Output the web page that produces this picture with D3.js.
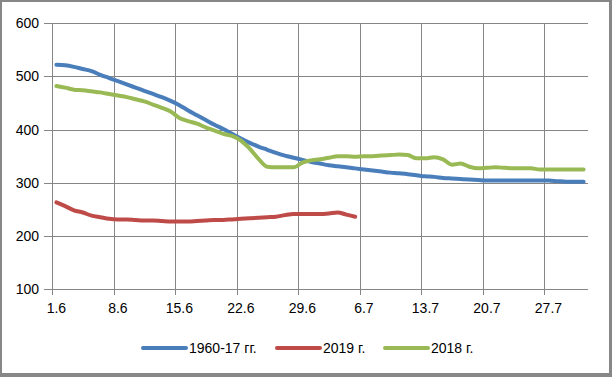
<!DOCTYPE html>
<html><head><meta charset="utf-8">
<script src="https://cdn.jsdelivr.net/npm/d3@7"></script>
<style>html,body{margin:0;padding:0;background:#fff}svg{display:block}text{font-family:"Liberation Sans",Arial,sans-serif;fill:#000}</style>
</head><body><svg id="c" width="612" height="377"></svg>
<script>
const categories = ["1.6","2.6","3.6","4.6","5.6","6.6","7.6","8.6","9.6","10.6","11.6","12.6","13.6","14.6","15.6","16.6","17.6","18.6","19.6","20.6","21.6","22.6","23.6","24.6","25.6","26.6","27.6","28.6","29.6","30.6","1.7","2.7","3.7","4.7","5.7","6.7","7.7","8.7","9.7","10.7","11.7","12.7","13.7","14.7","15.7","16.7","17.7","18.7","19.7","20.7","21.7","22.7","23.7","24.7","25.7","26.7","27.7","28.7","29.7","30.7","31.7"];
const tickLabels = ["1.6","8.6","15.6","22.6","29.6","6.7","13.7","20.7","27.7"];
const yTicks = [100,200,300,400,500,600];
const seriesNames = ["1960-17 гг.","2019 г.","2018 г."];
const blue = [522,521,518,514,510,503,497,491,485,479,473,467,461,454,446,436,427,418,409,401,392,383,375,368,362,356,351,347,343,339,336,333,331,329,327,325,323,321,319,318,316,314,312,311,309,308,307,306,305,304,304,304,304,304,304,304,304,303,302,302,302];
const red = [263,256,248,244,238,235,232,231,231,230,229,229,228,227,227,227,228,229,230,230,231,232,233,234,235,236,239,241,241,241,241,242,244,240,236];
const green = [482,479,475,474,472,470,467,464,461,457,453,447,441,434,422,416,411,404,398,392,388,379,364,345,330,329,329,329,338,342,344,347,350,350,349,350,350,351,352,353,352,346,346,348,344,334,336,330,327,328,329,328,327,327,327,325,325,325,325,325,325];
const colors = ["#4A7EBB","#BE4B48","#98B954"];

const svg = d3.select("#c");
svg.append("rect").attr("x",0).attr("y",0).attr("width",612).attr("height",377).attr("fill","#878787");
svg.append("rect").attr("x",2).attr("y",2).attr("width",607).attr("height",371).attr("fill","#fff");

const x = d3.scaleBand().domain(categories).range([52,588]);
const y = d3.scaleLinear().domain([100,600]).range([289,23.3]);
const grid = "#868686";

// horizontal gridlines + y ticks
svg.append("g").selectAll("line").data(yTicks).join("line")
  .attr("x1",44).attr("x2",588).attr("y1",d=>Math.round(y(d))+0.5).attr("y2",d=>Math.round(y(d))+0.5)
  .attr("stroke",grid).attr("stroke-width",1);
svg.append("g").selectAll("text").data(yTicks).join("text")
  .attr("x",39).attr("y",d=>y(d)).attr("dy","0.36em").attr("text-anchor","end")
  .attr("font-size",14).text(d=>d);

// vertical gridlines at tick categories
svg.append("g").selectAll("line").data(tickLabels).join("line")
  .attr("x1",d=>Math.round(x(d))+0.5).attr("x2",d=>Math.round(x(d))+0.5)
  .attr("y1",23).attr("y2",295).attr("stroke",grid).attr("stroke-width",1);
svg.append("g").selectAll("text").data(tickLabels).join("text")
  .attr("x",d=>x(d)+x.bandwidth()/2).attr("y",313).attr("text-anchor","middle")
  .attr("font-size",14).text(d=>d);

const line = d3.line().x((d,i)=>x(categories[i])+x.bandwidth()/2).y(d=>y(d)).curve(d3.curveMonotoneX);
[blue,red,green].forEach((s,k)=>{
  svg.append("path").datum(s).attr("d",line).attr("fill","none")
    .attr("stroke",colors[k]).attr("stroke-width",4).attr("stroke-linecap","round").attr("stroke-linejoin","round");
});

// legend
const legX = [143,277,385];
seriesNames.forEach((n,k)=>{
  svg.append("line").attr("x1",legX[k]).attr("x2",legX[k]+43).attr("y1",348).attr("y2",348)
    .attr("stroke",colors[k]).attr("stroke-width",4).attr("stroke-linecap","round");
  svg.append("text").attr("x",legX[k]+46).attr("y",348).attr("dy","0.36em").attr("font-size",14).text(n);
});
</script></body></html>
